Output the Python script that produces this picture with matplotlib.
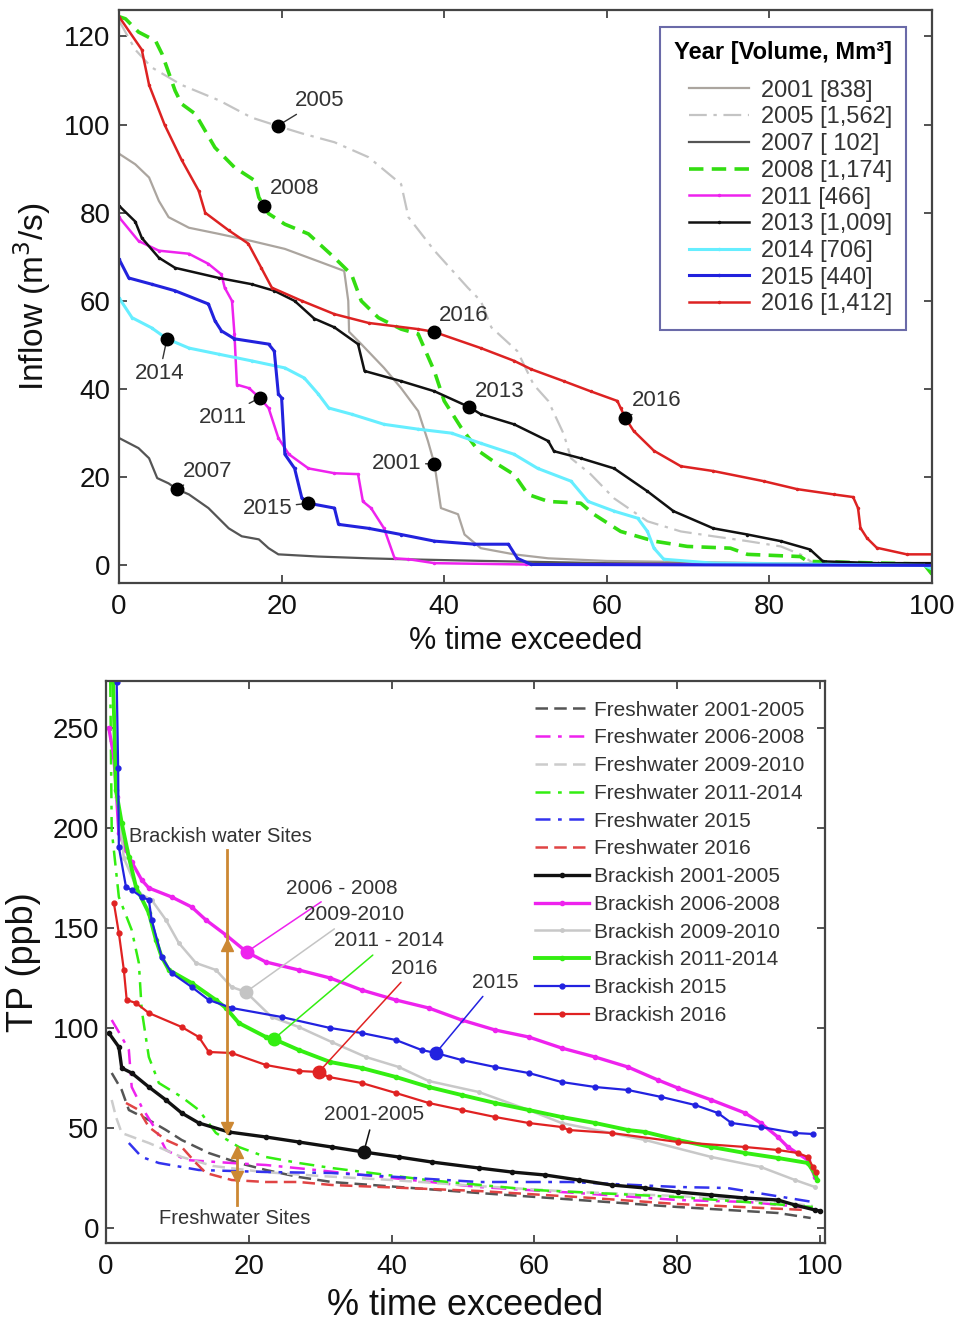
import matplotlib
matplotlib.use("Agg")
import matplotlib.pyplot as plt

plt.rcParams['font.family'] = ['Liberation Sans', 'DejaVu Sans']

# === Inflow duration curves (% time exceeded vs m3/s) ===
x2001 = [0, 2, 3.7, 4.9, 6.1, 8.6, 12.3, 16.3, 20.4, 24.5, 27.7, 28.2, 28.3, 29.8, 32.6, 34.7,
         36.8, 38, 38.8, 39.6, 41.7, 42.5, 44.5, 48.6, 52.8, 60, 80, 100]
y2001 = [93.4, 91, 88, 82.7, 79, 76.6, 75.2, 73.6, 71.8, 69, 66.8, 60, 53, 50.2, 44.8, 40.2,
         35, 28.2, 23, 13, 11.6, 7, 3.9, 2.5, 1.6, 1.0, 0.5, 0.3]

x2005 = [0, 2, 4, 7.7, 12.3, 16.3, 19.5, 22.5, 26.5, 30.7, 34.7, 35.6, 38.8, 42.9, 44.5, 45.8,
         49, 51, 52.8, 54.7, 55.6, 58, 60.9, 65, 69.1, 73.1, 77.3, 81.4, 83.8, 85.4, 90, 100]
y2005 = [123.6, 117, 113, 109, 105.5, 101.6, 99.7, 98, 96, 92.6, 86.5, 79, 71.4, 63, 60, 54,
         48.6, 41, 37.3, 29.8, 24.3, 20.7, 15.2, 10, 7.7, 6.6, 5.5, 4.3, 2.5, 0.5, 0.3, 0.2]

x2007 = [0, 2.4, 3.7, 4.7, 6.1, 7.1, 8.6, 11, 13.5, 15.1, 17.2, 18.4, 19.6, 24.5, 30.7, 34.7,
         45, 60, 80, 100]
y2007 = [28.9, 26.6, 24.3, 19.8, 18.6, 17.3, 16.1, 13, 8.4, 6.6, 5.9, 3.9, 2.5, 2, 1.6, 1.4,
         1.0, 0.5, 0.3, 0.2]

x2008 = [0, 0.8, 2.4, 4.5, 5.3, 6.9, 7.7, 9.4, 11.8, 14.2, 16.7, 17.2, 17.8, 18.4, 20.4, 23.3,
         26.5, 28.6, 29.8, 31.9, 34.7, 36.8, 38.8, 40, 42.1, 44.2, 46.6, 48.6, 50.3, 52.8, 56.8,
         58.4, 61.7, 65.8, 69.9, 75.2, 77.3, 83.8, 84.7, 99, 100]
y2008 = [124.5, 124, 121, 119, 116, 107.7, 104.7, 102.4, 94.8, 90.3, 87.3, 83.5, 81.6, 79.8,
         77.4, 75.2, 69.8, 66, 60, 56.2, 53.6, 52.5, 44, 37.3, 31.2, 26, 22.9, 20.6, 16.1, 14.5,
         14.1, 11.6, 7.7, 5.5, 4.3, 3.9, 2.5, 2, 0.9, 0.3, -2]

x2011 = [0, 2.4, 4.9, 8.6, 11, 12.6, 13, 13.9, 14.2, 14.5, 16, 17.3, 18.4, 19.6, 20.9, 23.3,
         26.5, 29.4, 30, 31, 32.6, 33.9, 35.6, 38.8, 50, 100]
y2011 = [79, 73.6, 71.4, 70.7, 68.4, 66, 63, 60, 52.5, 41, 40.2, 38, 35.7, 28.9, 25.2, 22,
         20.9, 20.7, 14.5, 13, 8.4, 1.6, 1.4, 0.5, 0.2, 0.2]

x2013 = [0, 2, 2.8, 4.9, 6.9, 12.3, 16.3, 19.1, 21.6, 24, 26.5, 29.4, 30.2, 34.7, 38.8, 43.1,
         44.5, 48.6, 52.8, 53.5, 56.8, 60.9, 65, 68.2, 73.1, 77.3, 81.4, 85, 86.6, 93.3, 100]
y2013 = [81.6, 78, 74.3, 69.8, 67.5, 65.2, 63.8, 62.3, 60, 56, 54, 50.2, 44.1, 41.8, 39.5,
         35.9, 34.3, 32, 28.2, 25.9, 24.3, 22, 16.8, 12.3, 8.4, 7, 5.5, 3.6, 0.9, 0.5, 0.5]

x2014 = [0, 1.6, 4, 5.9, 8.6, 12.3, 16.3, 20.4, 22.8, 24.5, 25.8, 28.6, 32.6, 36.8, 40.9, 44.5,
         48.6, 51.5, 55.6, 57.7, 60.9, 63.8, 65, 65.8, 67, 73.1, 99, 100]
y2014 = [60.7, 56.2, 53.9, 51.4, 49.3, 47.9, 46.4, 44.8, 42.5, 38.9, 35.7, 34.3, 32, 30.9, 30,
         27.7, 25.2, 22, 19.1, 14.5, 12.3, 10.7, 7.7, 3.9, 1.4, 0.5, 0.0, -0.8]

x2015 = [0, 1.2, 4, 6.9, 11, 11.8, 12.6, 14.2, 18.4, 19.1, 19.6, 20, 20.4, 21.6, 22.5, 23.3,
         26.5, 27, 30.7, 34.7, 38.8, 43.7, 47.9, 49, 50.7, 100]
y2015 = [69.5, 65.2, 63.8, 62.3, 59.3, 55.5, 53.2, 51.4, 50.2, 48.6, 38.9, 38, 25.2, 22, 15.2,
         14.1, 13, 9.3, 8.4, 7, 5.5, 4.8, 4.8, 1.6, 0.2, 0.0]

x2016 = [0, 2.8, 3.7, 5.6, 7.7, 9.8, 10.6, 13.5, 15.9, 17.5, 18.8, 22.5, 26.5, 30.7, 36.8, 38.7,
         44.5, 48.6, 50.7, 54.7, 58, 61.3, 61.7, 62.3, 63.3, 65.8, 69.1, 73.1, 79.3, 83.4, 87.9,
         90.3, 90.9, 91.2, 92, 93.2, 96.9, 100]
y2016 = [124.5, 117, 109, 100, 92, 85, 80, 76, 73, 67.5, 63, 60, 57, 55, 53.6, 53, 49.3, 46.4,
         44.5, 41.8, 39.5, 37.3, 35.7, 33.4, 30.5, 26, 22.5, 21.4, 19.1, 17.3, 16.1, 15.5, 13,
         8.5, 6.2, 4, 2.5, 2.5]

# labelled points on the inflow curves: (text, point x, point y, text x, text y, ha)
flow_labels = [
    ("2005", 19.5, 99.7, 21.6, 105.5, "left"),
    ("2008", 17.8, 81.6, 18.6, 85.5, "left"),
    ("2016", 38.7, 53.0, 39.4, 56.8, "left"),
    ("2013", 43.1, 35.9, 43.8, 39.5, "left"),
    ("2016", 62.3, 33.4, 63.1, 37.4, "left"),
    ("2014", 5.9, 51.4, 5.0, 43.6, "center"),
    ("2011", 17.3, 38.0, 15.7, 33.6, "right"),
    ("2007", 7.1, 17.3, 7.8, 21.4, "left"),
    ("2015", 23.3, 14.1, 21.3, 13.0, "right"),
    ("2001", 38.8, 23.0, 37.2, 23.2, "right"),
]

# === TP exceedance curves (ppb) ===
bk0105_x = [0.4, 1.8, 2.2, 3.6, 6, 8.4, 10.6, 13, 17.2, 22.4, 27, 31.6, 36.1, 41, 45.6, 52.2,
            56.8, 61.5, 66.2, 70.8, 75.5, 80.1, 84.8, 89.5, 94.1, 96.5, 99.3, 100]
bk0105_y = [97.5, 90.5, 80, 77.5, 70.5, 64, 57.5, 52.5, 48, 45.5, 43, 40.5, 38, 35.5, 33, 30,
            28, 26.5, 24, 21.5, 20, 18, 16.5, 15, 14, 11.5, 9, 8.5]

bk0608_x = [0.4, 1.1, 1.5, 1.8, 2.8, 3.6, 5, 6, 9.2, 12, 14, 16.8, 19.7, 22.4, 27, 31.4, 35.8,
            40.6, 45.2, 49.8, 54.5, 59.2, 63.8, 68.5, 73.1, 77.3, 80.1, 84.8, 89.5, 91.7, 94.1,
            95.5, 98.3, 99.3]
bk0608_y = [250, 235.5, 215.5, 197.5, 189, 183, 174, 170, 165.5, 160.5, 154, 146.5, 138, 133,
            129, 125, 119, 114, 110, 104, 99, 95.5, 90, 85.5, 80.5, 74, 70, 64, 57.5, 52.5,
            45.5, 40.5, 34, 25.5]

bk0910_x = [1.6, 2.5, 4.6, 6.4, 8.4, 10.2, 12.6, 15.4, 17.6, 19.6, 23.2, 27, 31.6, 36.4, 41,
            45.2, 52.2, 59.2, 63.8, 75.5, 84.8, 91.7, 96.5, 99.3]
bk0910_y = [215, 185, 167.5, 164, 154, 142.5, 132.5, 129, 120.5, 118, 105.5, 100.5, 93, 85.5,
            80.5, 73.5, 68, 59, 52.5, 44, 35.5, 30.5, 24, 20.5]

bk1114_x = [1.0, 1.4, 2.2, 3.2, 4.2, 6, 7, 7.8, 8.8, 12, 15.4, 16.8, 18.6, 22.4, 23.5, 27,
            31.4, 35.8, 40.6, 45.2, 49.8, 54.5, 59.2, 63.8, 68.5, 73.1, 75.5, 80.1, 84.8, 89.5,
            94.1, 98.3, 99.3, 99.6]
bk1114_y = [273, 219, 202.5, 185.5, 170.5, 157.5, 144, 135.5, 129, 122.5, 114, 110, 102.5,
            95.5, 94.5, 89, 83, 80, 75.5, 70.5, 66.5, 62.5, 59, 55.5, 52.5, 49, 48, 44, 40.5,
            37.5, 35, 32.5, 27, 24]

bk15_x = [1.5, 1.7, 1.8, 2.8, 3.6, 5, 6, 6.4, 7.8, 9.2, 12, 14.4, 17.6, 24.6, 31.4, 35.8,
          40.6, 44.2, 46.2, 49.8, 54.5, 59.2, 63.8, 68.5, 73.1, 77.8, 82.5, 85.7, 87.6, 91.7,
          96.5, 99]
bk15_y = [273, 230, 190.5, 170.5, 169, 165.5, 164, 154, 135.5, 127.5, 120.5, 114, 110, 105.5,
          100, 97.5, 94, 89, 87.5, 84, 80.5, 77.5, 73, 70.5, 69, 65.5, 61.5, 57.5, 52.5, 50.5,
          47.5, 47]

bk16_x = [1.1, 1.8, 2.5, 2.9, 4.2, 6, 10.6, 13, 14.4, 17.6, 22.4, 27, 29.8, 31.2, 35.8, 40.6,
          45.2, 49.8, 54.5, 59.2, 63.8, 64.8, 70.8, 80.1, 89.5, 94.1, 96.9, 98.3, 99, 99.5]
bk16_y = [162.5, 147.5, 129, 114, 112.5, 107.5, 100.5, 95.5, 88, 87.5, 81.5, 78.5, 78, 75.5,
          72.5, 67.5, 62.5, 59, 55.5, 52.5, 50.5, 49, 47.5, 43, 40.5, 39, 37.5, 35.5, 30.5, 28]

fw0105_x = [0.8, 2.2, 3.2, 6, 8.4, 10.6, 14.4, 18.6, 22.4, 27, 31.6, 41, 52.2, 66.2, 80.1, 94.1, 98.7]
fw0105_y = [77.5, 69, 59, 54, 49, 44, 37.5, 32.5, 29, 25.5, 23, 20.5, 17.5, 14, 10.5, 7.5, 5]

fw0608_x = [0.8, 2.2, 3.2, 3.6, 5, 7, 8.4, 11.2, 17.6, 22.4, 29.4, 40, 52.2, 66, 80.1, 90, 99]
fw0608_y = [104, 95.5, 89, 70.5, 60.5, 49, 39, 34, 32.5, 31.5, 29, 25, 20.5, 17.5, 14, 13, 10]

fw0910_x = [0.8, 1.4, 2.2, 6, 10.6, 15, 22, 30, 40, 52, 66, 80, 94, 99]
fw0910_y = [64, 55.5, 47.5, 42.5, 35.5, 31, 28, 26, 24, 21, 18, 16, 13, 11]

fw1114_x = [0.6, 0.8, 1.8, 3.6, 4.6, 5, 6, 7.4, 10.6, 13, 15.4, 18.6, 22.4, 27, 31.6, 45, 60, 80, 99]
fw1114_y = [273, 199, 165.5, 149, 132.5, 109, 85.5, 72.5, 65.5, 59, 47.5, 40.5, 35.5, 32.5,
            30, 24, 19, 15.5, 10.5]

fw15_x = [3.2, 5, 7.4, 13, 22.4, 31.6, 52.2, 65, 80.1, 87, 99]
fw15_y = [42.5, 35.5, 32.5, 29, 28, 27.5, 23, 23, 20.5, 20, 13]

fw16_x = [2.8, 4.6, 6, 8.4, 10.6, 12.6, 14, 17.6, 22.4, 27, 31.6, 52.2, 66, 80, 98]
fw16_y = [62.5, 59, 50.5, 44, 40.5, 32.5, 27.5, 24, 23, 23, 21.5, 18.5, 15.5, 12, 9]

# labelled points on the brackish curves: (text, colour, point x, point y, text x, text y)
tp_labels = [
    ("2006 - 2008", "#ee22ee", 19.7, 138.0, 25.2, 170.0),
    ("2009-2010", "#c4c4c4", 19.6, 118.0, 27.7, 156.5),
    ("2011 - 2014", "#33ee11", 23.5, 94.5, 32.0, 143.5),
    ("2016", "#e02222", 29.8, 78.0, 39.9, 130.0),
    ("2015", "#2222e0", 46.2, 87.5, 51.2, 123.0),
    ("2001-2005", "#111111", 36.1, 38.0, 30.5, 56.5),
]

TXT = '#333333'
ORANGE = '#cc8833'

fig = plt.figure(figsize=(9.61, 13.21), dpi=100)
ax1 = fig.add_axes([119 / 961, 1 - 583 / 1321, 813 / 961, 573 / 1321])
ax2 = fig.add_axes([106 / 961, 1 - 1243 / 1321, 719 / 961, 562 / 1321])


def style_box(ax, fs):
    for sp in ax.spines.values():
        sp.set_color('#444444')
        sp.set_linewidth(1.6)
    ax.tick_params(direction='in', length=6, width=1.3, top=True, right=True,
                   labelsize=fs, color='#444444', labelcolor='#111111')


# --- top panel ---
ax1.plot(x2001, y2001, color='#aba59f', lw=1.6, label='2001 [838]')
ax1.plot(x2005, y2005, color='#c4c4c4', lw=1.6, dashes=(8, 3, 1.5, 3), label='2005 [1,562]')
ax1.plot(x2007, y2007, color='#555555', lw=1.6, label='2007 [ 102]')
ax1.plot(x2008, y2008, color='#33dd11', lw=2.6, dashes=(4, 2.3), label='2008 [1,174]')
ax1.plot(x2011, y2011, color='#ee22ee', lw=1.8, marker='.', ms=3, label='2011 [466]')
ax1.plot(x2013, y2013, color='#111111', lw=1.8, marker='.', ms=3, label='2013 [1,009]')
ax1.plot(x2014, y2014, color='#66eeff', lw=2.2, marker='.', ms=3, label='2014 [706]')
ax1.plot(x2015, y2015, color='#2222dd', lw=2.2, marker='.', ms=3, label='2015 [440]')
ax1.plot(x2016, y2016, color='#dd2222', lw=1.8, marker='.', ms=3, label='2016 [1,412]')

for txt, px, py, tx, ty, ha in flow_labels:
    ax1.plot(px, py, 'o', color='black', ms=9, zorder=5)
    ax1.annotate(txt, xy=(px, py), xytext=(tx, ty), ha=ha, va='center', fontsize=16,
                 color=TXT, arrowprops=dict(arrowstyle='-', color='#333333', lw=1,
                                            shrinkA=1, shrinkB=3))

ax1.set_xlim(0, 100)
ax1.set_ylim(-4, 126)
ax1.set_xticks(range(0, 101, 20))
ax1.set_yticks(range(0, 121, 20))
style_box(ax1, 20)
ax1.tick_params(axis='x', pad=8)
ax1.tick_params(axis='y', pad=6)
ax1.set_xlabel('% time exceeded', fontsize=22, color='#111111', labelpad=4)
ax1.set_ylabel('Inflow (m$^3$/s)', fontsize=24, color='#111111', labelpad=8)

leg1 = ax1.legend(loc='upper right', bbox_to_anchor=(0.968, 0.970), borderaxespad=0,
                  title='Year [Volume, Mm³]', title_fontproperties={'weight': 'bold', 'size': 17},
                  fontsize=17, labelspacing=0.2, handlelength=2.55, handletextpad=0.5,
                  borderpad=0.6, alignment='right', fancybox=False, framealpha=1)
leg1._legend_box.sep = 11
leg1.get_frame().set_edgecolor('#6a6aa8')
leg1.get_frame().set_linewidth(1.5)
for t in leg1.get_texts():
    t.set_color(TXT)

# --- bottom panel ---
ax2.plot(fw0105_x, fw0105_y, color='#555555', lw=1.8, dashes=(5, 2.5), label='Freshwater 2001-2005')
ax2.plot(fw0608_x, fw0608_y, color='#ee22ee', lw=1.8, dashes=(6, 3, 1.5, 3), label='Freshwater 2006-2008')
ax2.plot(fw0910_x, fw0910_y, color='#cccccc', lw=1.8, dashes=(5, 2.5), label='Freshwater 2009-2010')
ax2.plot(fw1114_x, fw1114_y, color='#33ee11', lw=1.8, dashes=(6, 3, 1.5, 3), label='Freshwater 2011-2014')
ax2.plot(fw15_x, fw15_y, color='#3333ee', lw=1.8, dashes=(6, 3, 1.5, 3), label='Freshwater 2015')
ax2.plot(fw16_x, fw16_y, color='#e04444', lw=1.8, dashes=(5, 2.5), label='Freshwater 2016')

ax2.plot(bk0105_x, bk0105_y, color='#111111', lw=2.4, marker='.', ms=6, label='Brackish 2001-2005')
ax2.plot(bk0608_x, bk0608_y, color='#ee22ee', lw=2.4, marker='.', ms=6, label='Brackish 2006-2008')
ax2.plot(bk0910_x, bk0910_y, color='#c8c8c8', lw=1.8, marker='.', ms=5, label='Brackish 2009-2010')
ax2.plot(bk1114_x, bk1114_y, color='#33ee11', lw=2.8, marker='.', ms=6, label='Brackish 2011-2014')
ax2.plot(bk15_x, bk15_y, color='#2222e0', lw=1.6, marker='.', ms=7, label='Brackish 2015')
ax2.plot(bk16_x, bk16_y, color='#e02222', lw=1.6, marker='.', ms=7, label='Brackish 2016')

for txt, col, px, py, tx, ty in tp_labels:
    ax2.plot(px, py, 'o', color=col, ms=9, zorder=5)
    ax2.annotate(txt, xy=(px, py), xytext=(tx, ty), ha='left', va='center', fontsize=15,
                 color=TXT, arrowprops=dict(arrowstyle='-', color=col, lw=1.1,
                                            shrinkA=2, shrinkB=2))

# brackish / freshwater site markers
ax2.plot([16.9, 16.9], [189, 49], color=ORANGE, lw=2, zorder=4)
ax2.plot(16.9, 141.5, '^', color=ORANGE, ms=8, zorder=6)
ax2.plot(16.9, 50, 'v', color=ORANGE, ms=8, zorder=6)
ax2.plot([18.3, 18.3], [11.5, 38], color=ORANGE, lw=2, zorder=4)
ax2.plot(18.3, 38, '^', color=ORANGE, ms=8, zorder=6)
ax2.plot(18.3, 25.5, 'v', color=ORANGE, ms=8, zorder=6)
ax2.text(3.2, 196, 'Brackish water Sites', fontsize=14.5, color=TXT, va='center')
ax2.text(7.4, 5, 'Freshwater Sites', fontsize=14.5, color=TXT, va='center')

ax2.set_xlim(0, 100.7)
ax2.set_ylim(-7.5, 273.5)
ax2.set_xticks(range(0, 101, 20))
ax2.set_yticks(range(0, 251, 50))
style_box(ax2, 20)
ax2.tick_params(axis='x', pad=8)
ax2.tick_params(axis='y', pad=5)
ax2.set_xlabel('% time exceeded', fontsize=26, color='#111111', labelpad=6)
ax2.set_ylabel('TP (ppb)', fontsize=26, color='#111111', labelpad=8)

leg2 = ax2.legend(loc='upper left', bbox_to_anchor=(0.585, 0.98), borderaxespad=0,
                  frameon=False, fontsize=15, labelspacing=0.42, handlelength=2.6,
                  handletextpad=0.25)
for t in leg2.get_texts():
    t.set_color(TXT)

fig.savefig('out.png', dpi=100, facecolor='white')
